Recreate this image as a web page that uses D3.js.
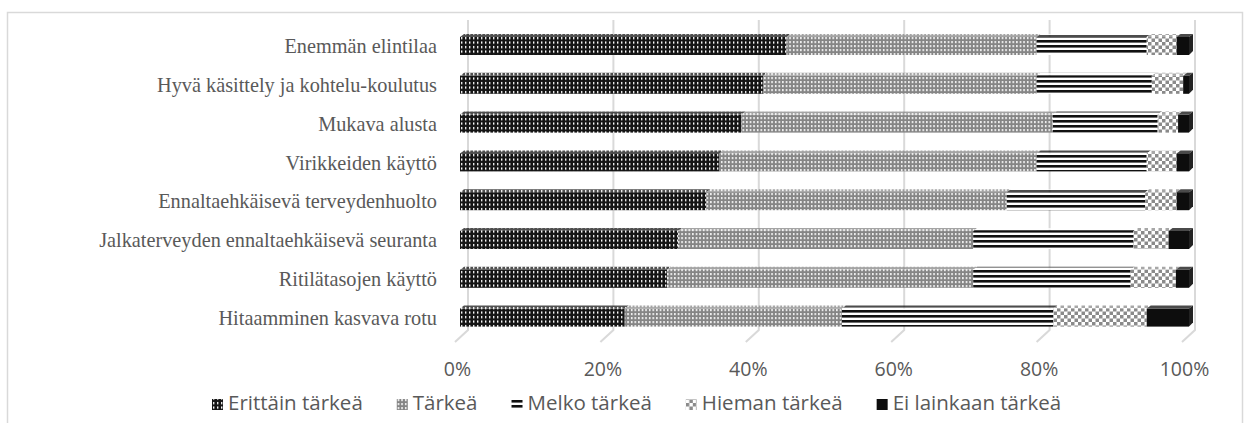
<!DOCTYPE html>
<html lang="fi">
<head>
<meta charset="UTF-8" />
<title>Tärkeys</title>
<script src="https://d3js.org/d3.v7.min.js"></script>
<style>
  body { margin: 0; background: #fff; }
  .cat { font-family: "Liberation Serif", "Times New Roman", serif; font-size: 20.3px; fill: #595959; }
  .tick text { font-family: "Open Sans", Arial, sans-serif; font-size: 19.5px; fill: #595959; }
  .leg text { font-family: "Open Sans", Arial, sans-serif; font-size: 20.5px; fill: #595959; }
</style>
</head>
<body>
<script>
// categories, top to bottom
var categories = [
  "Enemmän elintilaa",
  "Hyvä käsittely ja kohtelu-koulutus",
  "Mukava alusta",
  "Virikkeiden käyttö",
  "Ennaltaehkäisevä terveydenhuolto",
  "Jalkaterveyden ennaltaehkäisevä seuranta",
  "Ritilätasojen käyttö",
  "Hitaamminen kasvava rotu"
];
var seriesNames = ["Erittäin tärkeä", "Tärkeä", "Melko tärkeä", "Hieman tärkeä", "Ei lainkaan tärkeä"];

// percentages per series, same order as categories
var erittain = [44.8, 41.6, 38.6, 35.6, 33.8, 29.9, 28.4, 22.6];
var tarkea   = [34.3, 37.5, 42.7, 43.5, 41.2, 40.5, 42.0, 29.8];
var melko    = [15.1, 15.8, 14.4, 15.1, 19.0, 22.0, 21.6, 29.0];
var hieman   = [ 4.1,  4.3,  2.8,  4.1,  4.3,  4.8,  6.2, 12.8];
var eiLainkaan = [1.7, 0.8,  1.5,  1.7,  1.7,  2.8,  1.8,  5.8];

var tickValues = [0, 0.2, 0.4, 0.6, 0.8, 1];

var W = 1250, H = 423;
var svg = d3.select("body").append("svg").attr("width", W).attr("height", H);

// patterns (grey-scale fills like the original)
var defs = svg.append("defs");
function dots(id, bg, w, h) {
  var p = defs.append("pattern").attr("id", id).attr("patternUnits", "userSpaceOnUse")
    .attr("width", w).attr("height", h);
  p.append("rect").attr("width", w).attr("height", h).attr("fill", bg);
  p.append("rect").attr("x", 1).attr("y", 1).attr("width", 1.4).attr("height", 2.2).attr("fill", "#fff");
}
dots("p0", "#141414", 4, 4.5);
dots("p1", "#858585", 3.6, 4);
var p2 = defs.append("pattern").attr("id", "p2").attr("patternUnits", "userSpaceOnUse").attr("width", 6).attr("height", 5);
p2.append("rect").attr("width", 6).attr("height", 5).attr("fill", "#fff");
p2.append("rect").attr("width", 6).attr("height", 2.6).attr("fill", "#111");
var p3 = defs.append("pattern").attr("id", "p3").attr("patternUnits", "userSpaceOnUse").attr("width", 7).attr("height", 7);
p3.append("rect").attr("width", 7).attr("height", 7).attr("fill", "#fff");
p3.append("rect").attr("width", 3.5).attr("height", 3.5).attr("fill", "#8a8a8a");
p3.append("rect").attr("x", 3.5).attr("y", 3.5).attr("width", 3.5).attr("height", 3.5).attr("fill", "#8a8a8a");
var fills = ["url(#p0)", "url(#p1)", "url(#p2)", "url(#p3)", "#0d0d0d"];

// outer border
svg.append("rect").attr("x", 7.5).attr("y", 12.5).attr("width", 1235).attr("height", 420)
  .attr("fill", "none").attr("stroke", "#d9d9d9").attr("stroke-width", 1.5);

var xBack = d3.scaleLinear().domain([0, 1]).range([468, 1195]);
var xFront = d3.scaleLinear().domain([0, 1]).range([460, 1189]);
var xLabel = d3.scaleLinear().domain([0, 1]).range([457, 1184]);
var y = d3.scaleBand().domain(categories).range([25.6, 336]).padding(0);

// gridlines with the 3D floor bend
svg.append("g").selectAll("path").data(tickValues).join("path")
  .attr("d", function(d) { var x = xBack(d); return "M" + x + ",20V330L" + (x - 13) + ",342"; })
  .attr("fill", "none").attr("stroke", "#d9d9d9").attr("stroke-width", 2);

// axis labels
var ax = svg.append("g").attr("transform", "translate(0,359)")
  .call(d3.axisBottom(xLabel).tickValues(tickValues).tickFormat(d3.format(".0%")).tickSize(0));
ax.select(".domain").remove();

// category labels
svg.append("g").selectAll("text").data(categories).join("text")
  .attr("class", "cat")
  .attr("x", 437)
  .attr("y", function(d) { return y(d) + y.bandwidth() / 2 + 1; })
  .attr("dy", "0.35em")
  .attr("text-anchor", "end")
  .text(function(d) { return d; });

// stacked data
var rows = categories.map(function(c, i) {
  var r = { cat: c };
  r[seriesNames[0]] = erittain[i];
  r[seriesNames[1]] = tarkea[i];
  r[seriesNames[2]] = melko[i];
  r[seriesNames[3]] = hieman[i];
  r[seriesNames[4]] = eiLainkaan[i];
  return r;
});
var stacked = d3.stack().keys(seriesNames).offset(d3.stackOffsetExpand)(rows);

var barH = 18, dx = 4, dy = 3;
function frontY(d) { return y(d.data.cat) + y.bandwidth() / 2 - 8; }

var layers = svg.append("g").selectAll("g").data(stacked).join("g")
  .attr("fill", function(d, i) { return fills[i]; });

// top faces
layers.selectAll("path.top").data(function(d) { return d; }).join("path")
  .attr("class", "top")
  .attr("d", function(d) {
    var x0 = xFront(d[0]), x1 = xFront(d[1]), yt = frontY(d);
    return "M" + x0 + "," + yt + "L" + (x0 + dx) + "," + (yt - dy) + "L" + (x1 + dx) + "," + (yt - dy) + "L" + x1 + "," + yt + "Z";
  })
  .attr("opacity", 0.75);

// front faces
layers.selectAll("rect").data(function(d) { return d; }).join("rect")
  .attr("x", function(d) { return xFront(d[0]); })
  .attr("y", frontY)
  .attr("width", function(d) { return xFront(d[1]) - xFront(d[0]); })
  .attr("height", barH);

// right side face of the last segment
svg.append("g").selectAll("path").data(stacked[stacked.length - 1]).join("path")
  .attr("d", function(d) {
    var x1 = xFront(d[1]), yt = frontY(d);
    return "M" + x1 + "," + yt + "L" + (x1 + dx) + "," + (yt - dy) + "L" + (x1 + dx) + "," + (yt - dy + barH - 1) + "L" + x1 + "," + (yt + barH) + "Z";
  })
  .attr("fill", "#222");

// legend
var leg = svg.append("g").attr("class", "leg");
var items = leg.selectAll("g").data(seriesNames).join("g");
items.append("rect").attr("width", 11).attr("height", 11).attr("y", -11)
  .attr("fill", function(d, i) { return fills[i]; });
items.append("text").attr("x", 16).attr("y", 0).text(function(d) { return d; });
var pos = 0;
items.each(function() {
  var w = this.getBBox().width;
  d3.select(this).attr("transform", "translate(" + pos + ",0)");
  pos += w + 34;
});
var total = pos - 34;
leg.attr("transform", "translate(" + Math.round(637 - total / 2) + ",410)");
</script>
</body>
</html>
